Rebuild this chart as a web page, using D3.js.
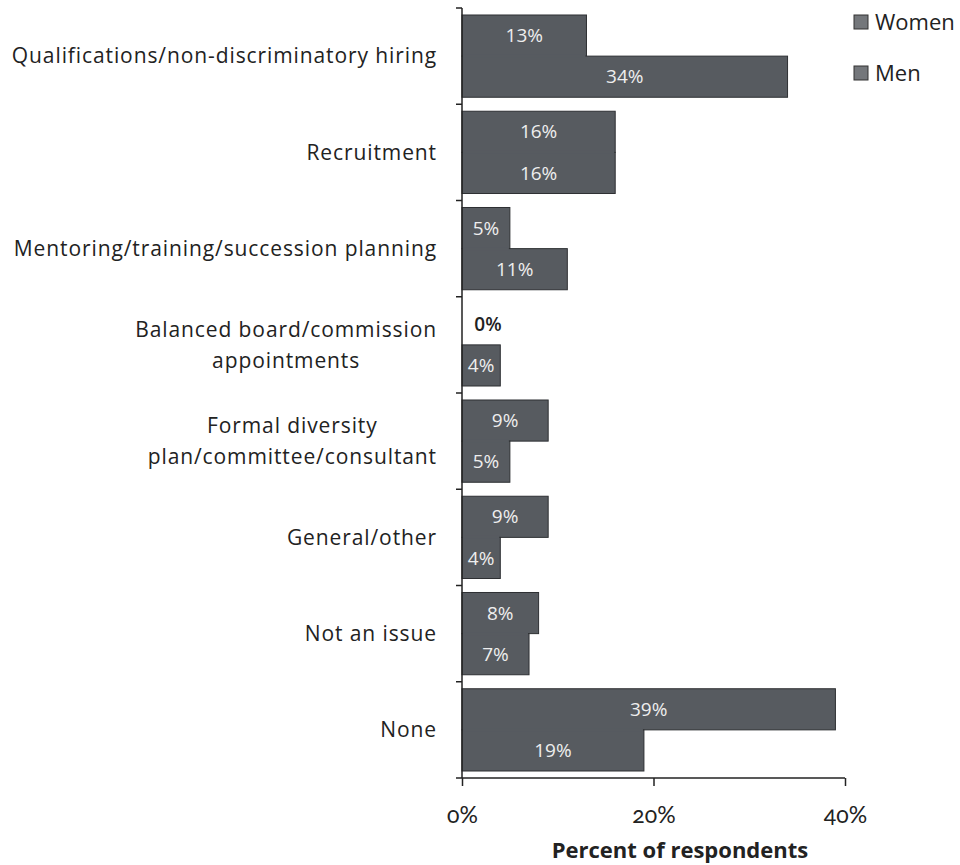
<!DOCTYPE html>
<html>
<head>
<meta charset="utf-8">
<script src="https://cdn.jsdelivr.net/npm/d3@7"></script>
<style>
  body { margin: 0; background: #fff; }
  text { font-family: "Open Sans", Lato, sans-serif; }
</style>
</head>
<body>
<div id="chart"></div>
<script>
// chart data
var categories = [
  ["Qualifications/non-discriminatory hiring"],
  ["Recruitment"],
  ["Mentoring/training/succession planning"],
  ["Balanced board/commission", "appointments"],
  ["Formal diversity", "plan/committee/consultant"],
  ["General/other"],
  ["Not an issue"],
  ["None"]
];
var series = ["Women", "Men"];
var women = [13, 16, 5, 0, 9, 9, 8, 39];
var men = [34, 16, 11, 4, 5, 4, 7, 19];
var xTicks = [0, 20, 40];
var xTitle = "Percent of respondents";

var width = 960, height = 865;
var svg = d3.select("#chart").append("svg")
    .attr("width", width)
    .attr("height", height);

// plot edges (note: "top" is a reserved window property, so use other names)
var plotLeft = 462, plotRight = 845, plotTop = 8, plotBottom = 778;

var x = d3.scaleLinear().domain([0, 40]).range([plotLeft, plotRight]);
var y0 = d3.scaleBand().domain(d3.range(categories.length)).range([plotTop, plotBottom]);
var y1 = d3.scaleBand().domain(series).range([0, y0.bandwidth()]).paddingOuter(0.17);

var rows = categories.map(function (c, i) {
  return { i: i, lines: c, vals: [
    { key: "Women", v: women[i] },
    { key: "Men", v: men[i] }
  ] };
});

var barFill = "#575b60";

var g = svg.selectAll("g.cat")
    .data(rows)
    .enter().append("g")
    .attr("class", "cat")
    .attr("transform", function (d) { return "translate(0," + y0(d.i) + ")"; });

g.selectAll("rect.bar")
    .data(function (d) { return d.vals.filter(function (e) { return e.v > 0; }); })
    .enter().append("rect")
    .attr("class", "bar")
    .attr("x", x(0))
    .attr("y", function (d) { return y1(d.key); })
    .attr("width", function (d) { return x(d.v) - x(0); })
    .attr("height", y1.bandwidth())
    .attr("fill", barFill)
    .attr("stroke", "#2e3033")
    .attr("stroke-width", 1);

// hide the shared edge where the two bars of a group touch
g.append("rect")
    .attr("x", x(0) + 1)
    .attr("y", y1("Men") - 1.5)
    .attr("width", function (d) {
      var w = Math.min(d.vals[0].v, d.vals[1].v);
      return Math.max(0, x(w) - x(0) - 2);
    })
    .attr("height", 3)
    .attr("fill", barFill);

// value labels
g.selectAll("text.val")
    .data(function (d) { return d.vals; })
    .enter().append("text")
    .attr("class", "val")
    .attr("x", function (d) { return d.v > 0 ? (x(0) + x(d.v)) / 2 : x(0) + 26; })
    .attr("y", function (d) { return y1(d.key) + y1.bandwidth() / 2; })
    .attr("dy", "0.35em")
    .attr("text-anchor", "middle")
    .attr("font-size", 19)
    .attr("fill", function (d) { return d.v > 0 ? "#eeeeee" : "#222"; })
    .attr("font-weight", function (d) { return d.v > 0 ? "normal" : "600"; })
    .text(function (d) { return d.v + "%"; });

// category labels
var labelRight = 437;
var lineH = 31;
g.each(function (d) {
  var grp = d3.select(this);
  var mid = y0.bandwidth() / 2;
  var n = d.lines.length;
  var texts = d.lines.map(function (line, k) {
    return grp.append("text")
        .attr("y", mid + (k - (n - 1) / 2) * lineH)
        .attr("dy", "0.35em")
        .attr("font-size", 21)
        .attr("letter-spacing", "0.9px")
        .attr("fill", "#222")
        .attr("text-anchor", "middle")
        .text(line);
  });
  var widths = texts.map(function (t) { return t.node().getComputedTextLength(); });
  var maxW = d3.max(widths);
  var cx = labelRight - maxW / 2;
  texts.forEach(function (t) { t.attr("x", cx); });
});

// y axis line with ticks at category boundaries
var yAxis = svg.append("g");
yAxis.append("line")
    .attr("x1", plotLeft).attr("x2", plotLeft)
    .attr("y1", plotTop).attr("y2", plotBottom)
    .attr("stroke", "#222").attr("stroke-width", 1.5);
yAxis.selectAll("line.tick")
    .data(d3.range(categories.length + 1))
    .enter().append("line")
    .attr("class", "tick")
    .attr("x1", plotLeft - 6).attr("x2", plotLeft)
    .attr("y1", function (d) { return plotTop + d * y0.step(); })
    .attr("y2", function (d) { return plotTop + d * y0.step(); })
    .attr("stroke", "#222").attr("stroke-width", 1.5);

// x axis
var xAxis = svg.append("g")
    .attr("transform", "translate(0," + plotBottom + ")")
    .call(d3.axisBottom(x).tickValues(xTicks).tickSize(8).tickPadding(21)
      .tickFormat(function (d) { return d + "%"; }));
xAxis.select(".domain").attr("stroke", "#222").attr("stroke-width", 1.5)
    .attr("d", "M" + plotLeft + ",0H" + plotRight);
xAxis.selectAll(".tick line").attr("stroke", "#222").attr("stroke-width", 1.5);
xAxis.selectAll(".tick text")
    .attr("font-size", 23)
    .attr("fill", "#222")
    .style("font-variant-numeric", "oldstyle-nums")
    .style("font-family", "Lato, sans-serif");

svg.append("text")
    .attr("x", 680)
    .attr("y", 858)
    .attr("text-anchor", "middle")
    .attr("font-size", 22)
    .attr("font-weight", "bold")
    .attr("fill", "#222")
    .text(xTitle);

// legend
var legend = svg.selectAll("g.legend")
    .data(series)
    .enter().append("g")
    .attr("class", "legend")
    .attr("transform", function (d, i) { return "translate(854," + (15 + i * 51) + ")"; });
legend.append("rect")
    .attr("width", 14).attr("height", 14)
    .attr("fill", "#74777b")
    .attr("stroke", "#333");
legend.append("text")
    .attr("x", 21)
    .attr("y", 7)
    .attr("dy", "0.35em")
    .attr("font-size", 22)
    .attr("fill", "#222")
    .text(function (d) { return d; });
</script>
</body>
</html>
